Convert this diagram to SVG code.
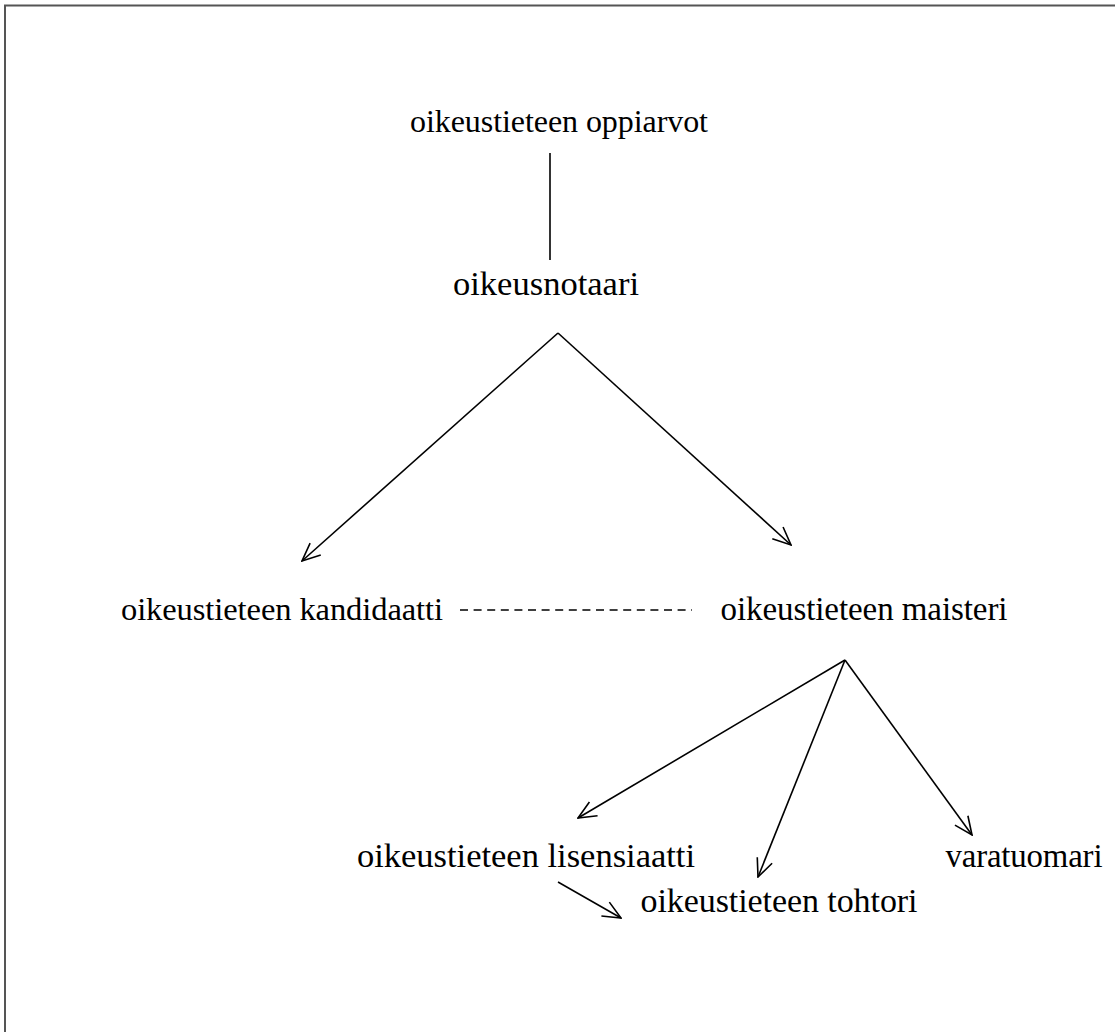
<svg xmlns="http://www.w3.org/2000/svg" width="1115" height="1032" viewBox="0 0 1115 1032">
<style>
.t{font-family:"Liberation Serif","Times New Roman",serif;font-size:32px;fill:#000;text-anchor:middle}
.c{stroke:#000;stroke-width:1.6;fill:none}
</style>
<defs>
<marker id="ah" viewBox="0 0 20 20" refX="19" refY="10" markerWidth="20" markerHeight="20" markerUnits="userSpaceOnUse" orient="auto">
<path d="M1,2 L19,10 L1,18" fill="none" stroke="#000" stroke-width="1.6"/>
</marker>
</defs>
<rect x="0" y="0" width="1115" height="1032" fill="#fff"/>
<rect x="5" y="5.5" width="1200" height="1100" fill="none" stroke="#555" stroke-width="2"/>
<g id="connectors">
<line class="c" x1="550" y1="153" x2="550" y2="260"/>
<line class="c" x1="558" y1="333" x2="302" y2="561" marker-end="url(#ah)"/>
<line class="c" x1="558" y1="333" x2="791" y2="545" marker-end="url(#ah)"/>
<line class="c" x1="460" y1="610" x2="692" y2="610" stroke-dasharray="8 5.6" stroke-width="2.2"/>
<line class="c" x1="845" y1="660" x2="578" y2="818" marker-end="url(#ah)"/>
<line class="c" x1="845" y1="660" x2="758" y2="877" marker-end="url(#ah)"/>
<line class="c" x1="845" y1="660" x2="972" y2="835" marker-end="url(#ah)"/>
<line class="c" x1="558" y1="882" x2="621" y2="918" marker-end="url(#ah)"/>
</g>
<g id="n-oppiarvot"><text class="t" x="559" y="132" textLength="298">oikeustieteen oppiarvot</text></g>
<g id="n-notaari"><text class="t" x="546" y="295" style="font-size:34.5px" textLength="186">oikeusnotaari</text></g>
<g id="n-kandidaatti"><text class="t" x="282" y="620" style="font-size:32.5px" textLength="322">oikeustieteen kandidaatti</text></g>
<g id="n-maisteri"><text class="t" x="864" y="620" style="font-size:33px" textLength="287">oikeustieteen maisteri</text></g>
<g id="n-lisensiaatti"><text class="t" x="526" y="867" style="font-size:34.5px" textLength="338">oikeustieteen lisensiaatti</text></g>
<g id="n-varatuomari"><text class="t" x="1024" y="867" style="font-size:32.8px" textLength="157">varatuomari</text></g>
<g id="n-tohtori"><text class="t" x="779" y="912" style="font-size:34px" textLength="277">oikeustieteen tohtori</text></g>
</svg>
